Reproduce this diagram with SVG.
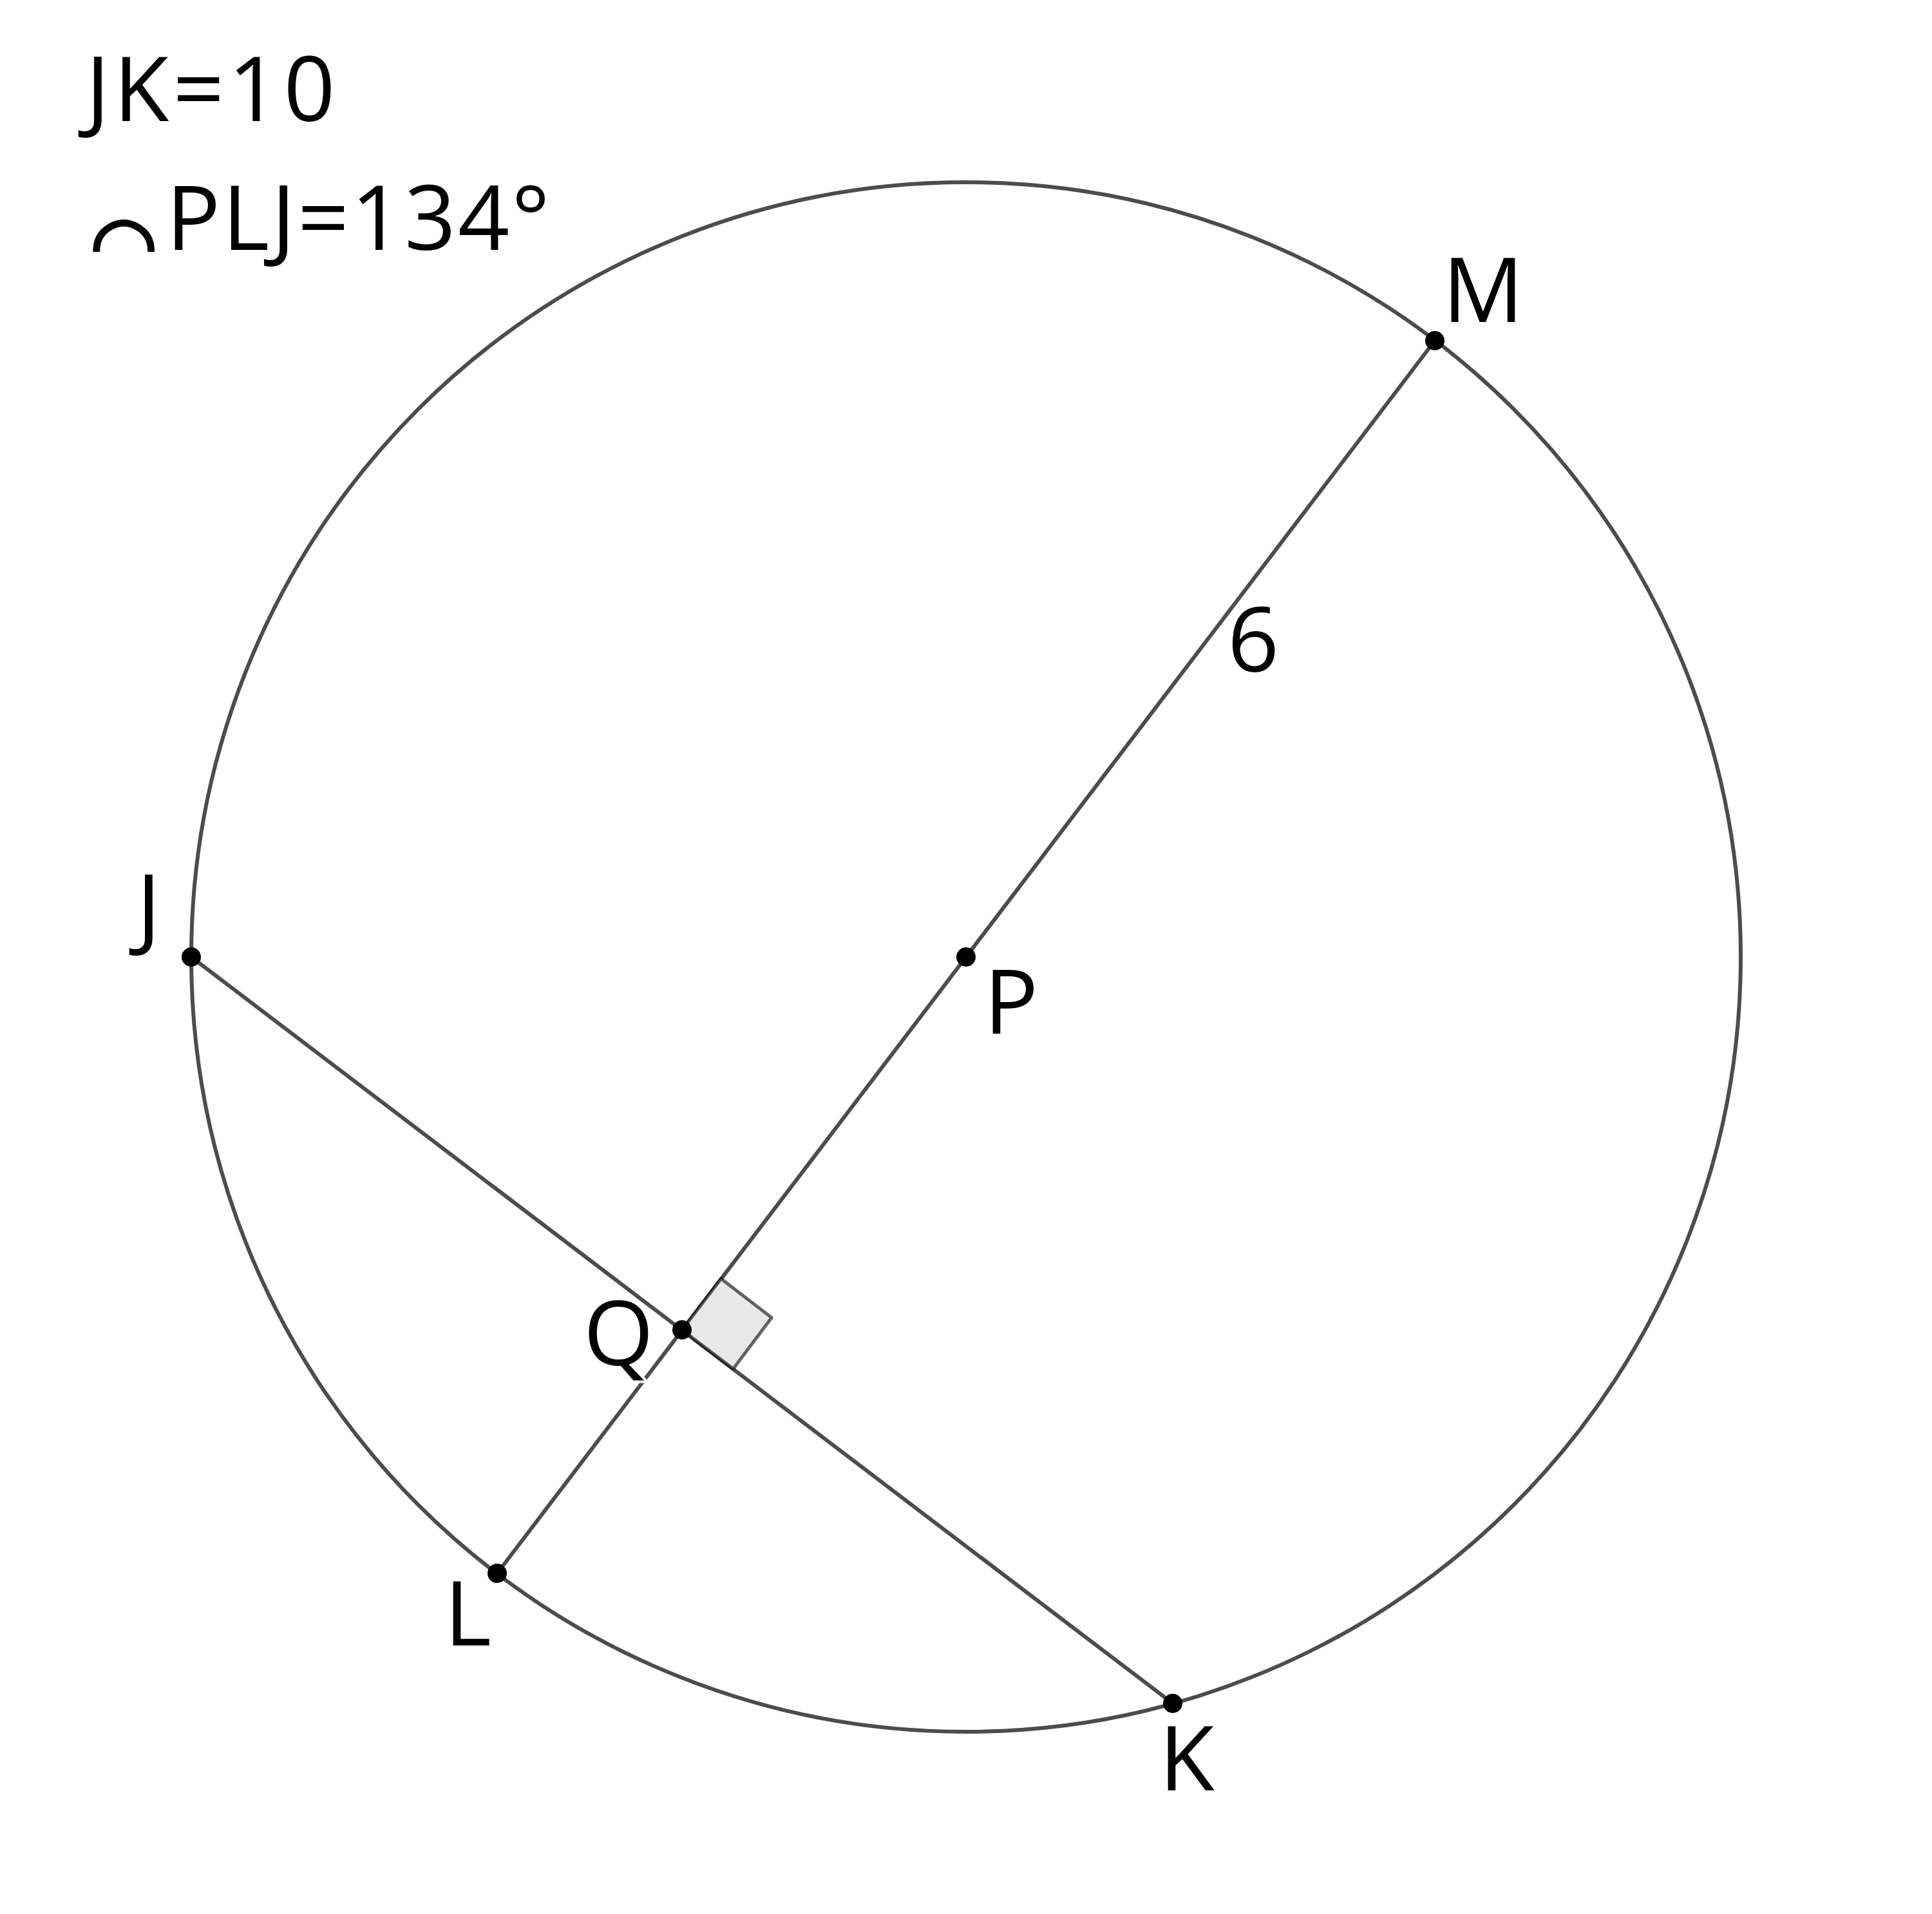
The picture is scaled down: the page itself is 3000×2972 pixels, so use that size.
<svg xmlns="http://www.w3.org/2000/svg" width="3000" height="2972" viewBox="0 0 3000 2972">
<style>
.ln{fill:none;stroke:#000;stroke-opacity:0.7;stroke-width:6}
.dot{fill:#000}
.lbl{font-family:"Open Sans","Noto Sans","DejaVu Sans",sans-serif;font-size:140px;fill:#000}
.halo{stroke:#fff;stroke-width:8;paint-order:stroke;stroke-linejoin:round}
.sym{font-family:"DejaVu Sans",sans-serif;font-size:120px;fill:#000;stroke:#000;stroke-width:4}
</style>
<rect width="3000" height="2972" fill="#fff"/>
<g id="circle"><circle cx="1500" cy="1486" r="1203" class="ln"/></g>
<g id="connectors">
<line x1="772" y1="2443" x2="2228" y2="529" class="ln"/>
<line x1="297" y1="1486" x2="1821" y2="2645" class="ln"/>
</g>
<g id="right-angle"><polygon points="1059,2065 1119.6,1985.4 1198.2,2046 1138.6,2125.6" fill="#e6e6e6" fill-opacity="0.9" stroke="#000" stroke-opacity="0.6" stroke-width="5" stroke-linejoin="round"/></g>
<g id="node-M"><circle cx="2228" cy="529" r="15" class="dot"/><text x="2240" y="500" class="lbl">M</text></g>
<g id="node-P"><circle cx="1500" cy="1486" r="15" class="dot"/><text x="1528" y="1605" class="lbl">P</text></g>
<g id="node-J"><circle cx="297" cy="1486" r="15" class="dot"/><text x="212" y="1458" class="lbl">J</text></g>
<g id="node-Q"><text x="906" y="2120" class="lbl halo">Q</text><circle cx="1059" cy="2065" r="15" class="dot"/></g>
<g id="node-L"><circle cx="772" cy="2443" r="15" class="dot"/><text x="690" y="2555" class="lbl">L</text></g>
<g id="node-K"><circle cx="1821" cy="2645" r="15" class="dot"/><text x="1800" y="2780" class="lbl">K</text></g>
<g id="label-6"><text x="1906" y="1043" class="lbl">6</text></g>
<g id="given">
<text x="133" y="188" class="lbl" letter-spacing="6">JK=10</text>
<text x="140" y="420" class="sym">◠</text>
<text x="258" y="388" class="lbl" letter-spacing="3">PLJ=134°</text>
</g>
</svg>
